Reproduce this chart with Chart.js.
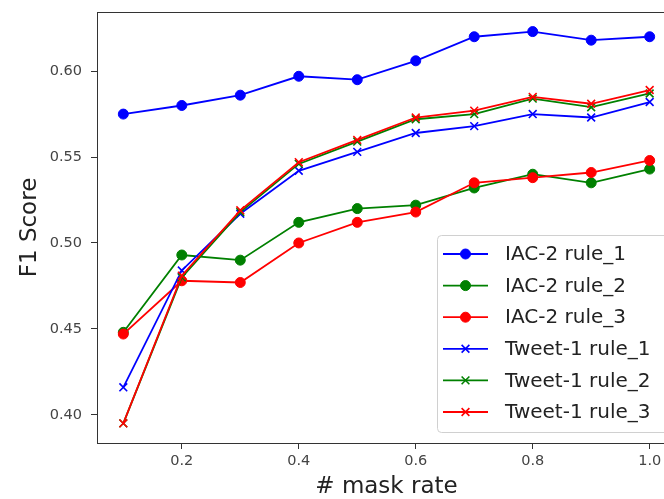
<!DOCTYPE html>
<html>
<head>
<meta charset="utf-8">
<script src="https://cdn.jsdelivr.net/npm/chart.js@4/dist/chart.umd.min.js"></script>
<style>
html,body{margin:0;padding:0;background:#fff;overflow:hidden;width:664px;height:499px;}
#wrap{width:690px;height:499px;}
</style>
</head>
<body>
<div id="wrap"><canvas id="c" width="690" height="499"></canvas></div>
<script>
const maskRates = [0.1, 0.2, 0.3, 0.4, 0.5, 0.6, 0.7, 0.8, 0.9, 1.0];
const xTicks = [0.2, 0.4, 0.6, 0.8, 1.0];
const yTicks = [0.40, 0.45, 0.50, 0.55, 0.60];
const seriesNames = ["IAC-2 rule_1", "IAC-2 rule_2", "IAC-2 rule_3", "Tweet-1 rule_1", "Tweet-1 rule_2", "Tweet-1 rule_3"];
const iac2Rule1 = [0.575, 0.580, 0.586, 0.597, 0.595, 0.606, 0.620, 0.623, 0.618, 0.620];
const iac2Rule2 = [0.448, 0.493, 0.490, 0.512, 0.520, 0.522, 0.532, 0.540, 0.535, 0.543];
const iac2Rule3 = [0.447, 0.478, 0.477, 0.500, 0.512, 0.518, 0.535, 0.538, 0.541, 0.548];
const tweet1Rule1 = [0.416, 0.484, 0.517, 0.542, 0.553, 0.564, 0.568, 0.575, 0.573, 0.582];
const tweet1Rule2 = [0.395, 0.480, 0.518, 0.546, 0.559, 0.572, 0.575, 0.584, 0.579, 0.587];
const tweet1Rule3 = [0.395, 0.481, 0.519, 0.547, 0.560, 0.573, 0.577, 0.585, 0.581, 0.589];

const allSeries = [iac2Rule1, iac2Rule2, iac2Rule3, tweet1Rule1, tweet1Rule2, tweet1Rule3];
const colors = ["#0000ff", "#008000", "#ff0000", "#0000ff", "#008000", "#ff0000"];
const styles = ["circle", "circle", "circle", "crossRot", "crossRot", "crossRot"];

const FONT = "'DejaVu Sans', sans-serif";

const datasets = allSeries.map((vals, i) => ({
  label: seriesNames[i],
  data: vals.map((v, j) => ({x: maskRates[j], y: v})),
  borderColor: colors[i],
  backgroundColor: colors[i],
  borderWidth: 1.8,
  pointStyle: styles[i],
  pointRadius: styles[i] === "circle" ? 5 : 5.5,
  pointBorderWidth: styles[i] === "circle" ? 1 : 1.6,
  pointBackgroundColor: colors[i],
  pointBorderColor: colors[i],
  tension: 0,
  order: -i,
  clip: false
}));

const framePlugin = {
  id: 'frame',
  beforeDatasetsDraw(chart) {
    const a = chart.chartArea, ctx = chart.ctx;
    ctx.save();
    ctx.strokeStyle = '#333';
    ctx.lineWidth = 1;
    ctx.strokeRect(Math.round(a.left) + 0.5, Math.round(a.top) + 0.5, Math.round(a.right - a.left), Math.round(a.bottom - a.top));
    ctx.restore();
  }
};

const legendPlugin = {
  id: 'innerLegend',
  afterDatasetsDraw(chart) {
    const ctx = chart.ctx;
    const bx = 437, by = 235, bw = 250, bh = 197;
    ctx.save();
    ctx.beginPath();
    if (ctx.roundRect) ctx.roundRect(bx + 0.5, by + 0.5, bw, bh, 4); else ctx.rect(bx + 0.5, by + 0.5, bw, bh);
    ctx.fillStyle = 'rgba(255,255,255,0.85)';
    ctx.fill();
    ctx.strokeStyle = '#d0d0d0';
    ctx.lineWidth = 1;
    ctx.stroke();
    const rowY0 = 254, rowGap = 31.6;
    chart.data.datasets.forEach((ds, i) => {
      const y = rowY0 + i * rowGap;
      ctx.strokeStyle = ds.borderColor;
      ctx.lineWidth = 1.8;
      ctx.beginPath();
      ctx.moveTo(443, y);
      ctx.lineTo(488, y);
      ctx.stroke();
      ctx.fillStyle = ds.backgroundColor;
      ctx.strokeStyle = ds.borderColor;
      ctx.lineWidth = ds.pointBorderWidth;
      Chart.helpers.drawPoint(ctx, {pointStyle: ds.pointStyle, radius: ds.pointRadius, rotation: 0, borderWidth: ds.pointBorderWidth}, 465.5, y);
      ctx.fillStyle = '#222';
      ctx.font = "20px " + FONT;
      ctx.textBaseline = 'middle';
      ctx.textAlign = 'left';
      ctx.fillText(ds.label, 505, y + 1);
    });
    ctx.restore();
  }
};

new Chart(document.getElementById('c'), {
  type: 'line',
  data: { datasets },
  options: {
    responsive: false,
    animation: false,
    events: [],
    layout: { padding: { left: 0, top: 12, right: 14, bottom: 0 } },
    plugins: { legend: { display: false }, tooltip: { enabled: false } },
    scales: {
      x: {
        type: 'linear',
        min: 0.055, max: 1.045,
        afterBuildTicks: s => { s.ticks = xTicks.map(v => ({value: v})); },
        afterFit: s => { s.height = 56; s.paddingLeft = 0; s.paddingRight = 0; },
        grid: { drawOnChartArea: false, drawTicks: true, tickLength: 6, tickColor: '#333', color: '#333' },
        border: { display: true, color: '#333', width: 1 },
        ticks: { color: '#444', font: { family: FONT, size: 14.5 }, padding: 4, maxRotation: 0, callback: v => Number(v).toFixed(1) },
        title: { display: true, text: '# mask rate', color: '#222', font: { family: FONT, size: 23, lineHeight: 1 }, padding: { top: 0, bottom: 0 } }
      },
      y: {
        type: 'linear',
        min: 0.3836, max: 0.6344,
        afterBuildTicks: s => { s.ticks = yTicks.map(v => ({value: v})); },
        afterFit: s => { s.width = 97; s.paddingTop = 0; s.paddingBottom = 0; },
        grid: { drawOnChartArea: false, drawTicks: true, tickLength: 6, tickColor: '#333', color: '#333' },
        border: { display: true, color: '#333', width: 1 },
        ticks: { color: '#444', font: { family: FONT, size: 14.5 }, padding: 9, callback: v => Number(v).toFixed(2) },
        title: { display: true, text: 'F1 Score', color: '#222', font: { family: FONT, size: 23, lineHeight: 1 }, padding: { top: 18.5, bottom: 0 } }
      }
    }
  },
  plugins: [framePlugin, legendPlugin]
});
</script>
</body>
</html>
